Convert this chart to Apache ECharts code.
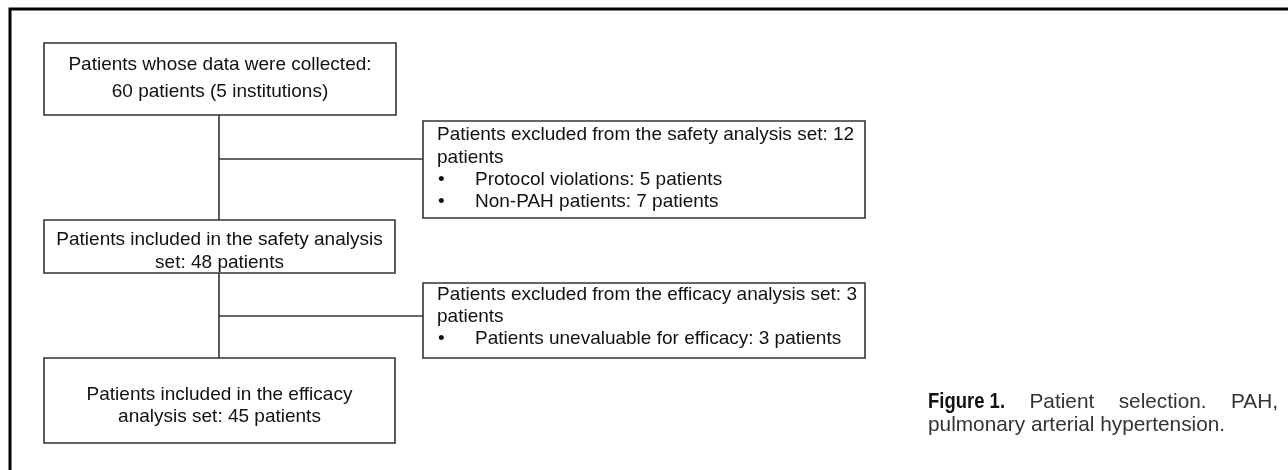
<!DOCTYPE html>
<html>
<head>
    <meta charset='utf-8'>
    <script src="https://cdn.jsdelivr.net/npm/echarts@6/dist/echarts.min.js"></script>
</head>
<body>
<style>
    html, body, #main {
        width: 1288px;
        height: 470px;
        margin: 0;
        padding: 0;
        background: #fff;
    }
</style>
<div id="main"></div>
<script>
    // text of each flowchart box, line by line ('• ' marks a bullet line)
    var boxLines = [
        ['Patients whose data were collected:', '60 patients (5 institutions)'],
        ['Patients excluded from the safety analysis set: 12', 'patients',
            '• Protocol violations: 5 patients', '• Non-PAH patients: 7 patients'],
        ['Patients included in the safety analysis', 'set: 48 patients'],
        ['Patients excluded from the efficacy analysis set: 3', 'patients',
            '• Patients unevaluable for efficacy: 3 patients'],
        ['Patients included in the efficacy', 'analysis set: 45 patients']
    ];
    var captionLabel = 'Figure 1.';
    var captionLines = ['Patient selection. PAH,', 'pulmonary arterial hypertension.'];

    // layout (units of the hidden axes = page pixels)
    var boxRects = [
        [44, 43, 396, 115],
        [423, 121, 865, 218],
        [44, 220, 395, 273],
        [423, 283, 865, 358],
        [44, 358, 395, 443]
    ];
    var boxFirstLine = [65, 135, 240, 295, 395];
    var boxLineGap = [27, 22.3, 23, 22, 22];
    var boxAlign = ['center', 'left', 'center', 'left', 'center'];
    var trunkX = 219;
    var trunkLinks = [[0, 2], [2, 4]];      // [fromBox, toBox]
    var branchLinks = [[159, 1], [316, 3]]; // [y, toBox]

    var FONT = '19px "Liberation Sans", Arial, sans-serif';
    var CAP_FONT = '20.8px "Liberation Sans", Arial, sans-serif';
    var CAP_BOLD = 'bold 22px "Liberation Sans", Arial, sans-serif';
    var capLeft = 928, capRight = 1278, capY = [402, 425], boldScale = 0.84;

    var boxData = boxRects.map(function (r, i) {
        return [r[0], r[1], r[2], r[3], i];
    });
    var linkData = [];
    trunkLinks.forEach(function (l) {
        linkData.push([trunkX, boxRects[l[0]][3], trunkX, boxRects[l[1]][1]]);
    });
    branchLinks.forEach(function (l) {
        linkData.push([trunkX, l[0], boxRects[l[1]][0], l[0]]);
    });

    function renderBox(params, api) {
        var i = api.value(4);
        var p0 = api.coord([api.value(0), api.value(1)]);
        var p1 = api.coord([api.value(2), api.value(3)]);
        var children = [{
            type: 'rect',
            shape: {x: p0[0], y: p0[1], width: p1[0] - p0[0], height: p1[1] - p0[1]},
            style: {fill: '#fff', stroke: '#333', lineWidth: 1.6}
        }];
        boxLines[i].forEach(function (line, k) {
            var y = api.coord([0, boxFirstLine[i] + k * boxLineGap[i]])[1];
            if (boxAlign[i] === 'center') {
                children.push({
                    type: 'text',
                    style: {x: (p0[0] + p1[0]) / 2, y: y, text: line, font: FONT,
                        fill: '#111', align: 'center', verticalAlign: 'middle'}
                });
            } else if (line.indexOf('• ') === 0) {
                children.push({
                    type: 'text',
                    style: {x: p0[0] + 15, y: y, text: '•', font: FONT,
                        fill: '#111', align: 'left', verticalAlign: 'middle'}
                });
                children.push({
                    type: 'text',
                    style: {x: p0[0] + 52, y: y, text: line.slice(2), font: FONT,
                        fill: '#111', align: 'left', verticalAlign: 'middle'}
                });
            } else {
                children.push({
                    type: 'text',
                    style: {x: p0[0] + 14, y: y, text: line, font: FONT,
                        fill: '#111', align: 'left', verticalAlign: 'middle'}
                });
            }
        });
        return {type: 'group', children: children};
    }

    function renderLink(params, api) {
        var a = api.coord([api.value(0), api.value(1)]);
        var b = api.coord([api.value(2), api.value(3)]);
        return {
            type: 'line',
            shape: {x1: a[0], y1: a[1], x2: b[0], y2: b[1]},
            style: {stroke: '#333', lineWidth: 1.6}
        };
    }

    // caption: first line justified between capLeft and capRight
    var ctx = document.createElement('canvas').getContext('2d');
    function textWidth(font, s) {
        ctx.font = font;
        return ctx.measureText(s).width;
    }
    var capWords = captionLines[0].split(' ');
    var labelW = textWidth(CAP_BOLD, captionLabel) * boldScale;
    var wordW = capWords.map(function (w) { return textWidth(CAP_FONT, w); });
    var gap = (capRight - capLeft - labelW - wordW.reduce(function (a, b) { return a + b; }, 0)) / capWords.length;
    var caption = [{
        type: 'text', x: capLeft, y: capY[0], scaleX: boldScale, silent: true,
        style: {text: captionLabel, font: CAP_BOLD, fill: '#111', verticalAlign: 'middle'}
    }];
    var cx = capLeft + labelW + gap;
    capWords.forEach(function (w, k) {
        caption.push({
            type: 'text', x: cx, y: capY[0], silent: true,
            style: {text: w, font: CAP_FONT, fill: '#333', verticalAlign: 'middle'}
        });
        cx += wordW[k] + gap;
    });
    caption.push({
        type: 'text', x: capLeft, y: capY[1], silent: true,
        style: {text: captionLines[1], font: CAP_FONT, fill: '#333', verticalAlign: 'middle'}
    });

    var chart = echarts.init(document.getElementById('main'));

    chart.setOption({
        animation: false,
        graphic: [{
            type: 'rect',
            silent: true,
            shape: {x: 10, y: 9, width: 1400, height: 600},
            style: {fill: 'none', stroke: '#000', lineWidth: 3}
        }].concat(caption),
        grid: {left: 0, right: 0, top: 0, bottom: 0},
        xAxis: {type: 'value', min: 0, max: 1288, show: false},
        yAxis: {type: 'value', min: 0, max: 470, inverse: true, show: false},
        series: [{
            type: 'custom',
            renderItem: renderLink,
            data: linkData,
            z: 1
        }, {
            type: 'custom',
            renderItem: renderBox,
            data: boxData,
            z: 2
        }]
    });
</script>
</body>
</html>
